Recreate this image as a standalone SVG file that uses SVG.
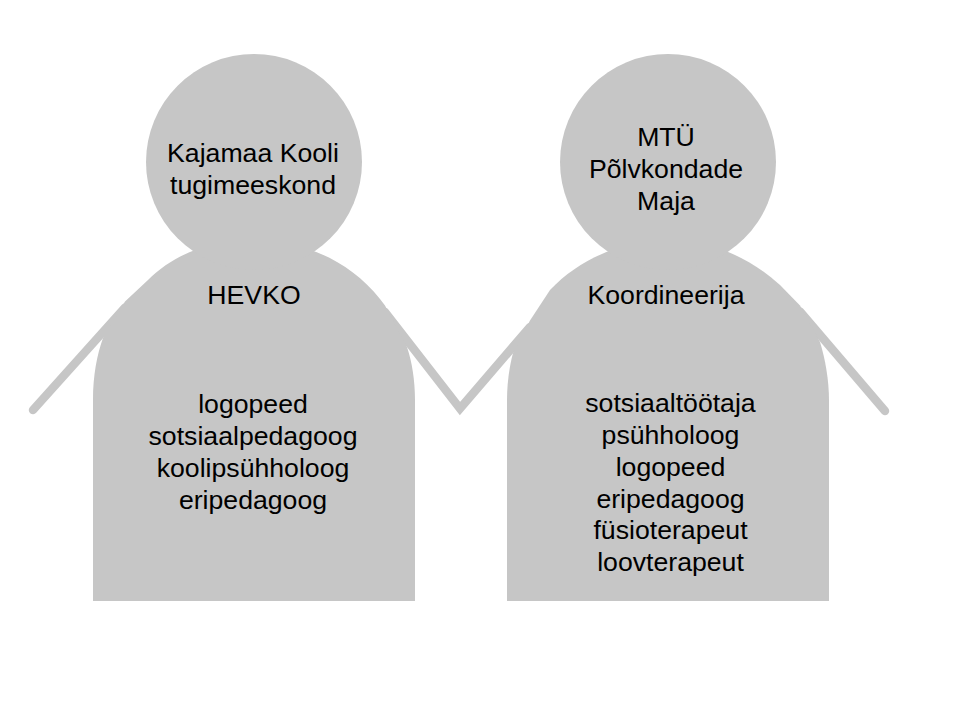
<svg xmlns="http://www.w3.org/2000/svg" width="960" height="720" viewBox="0 0 960 720">
<style>
.s{fill:#c6c6c6}
.a{fill:none;stroke:#c6c6c6;stroke-width:8.500;stroke-linecap:round;stroke-linejoin:miter}
text{font-family:"Liberation Sans",Arial,sans-serif;font-size:26.67px;fill:#000;text-anchor:middle}
</style>
<rect width="960" height="720" fill="#fff"/>
<g id="connectors">
<path class="a" d="M33 410L125 307.500"/>
<path class="a" d="M385 312L460 408.500L530 327"/>
<path class="a" d="M800 311.500L885 411"/>
</g>
<g id="person-left">
<path class="s" d="M93 601V400C93 375 97 355 103 338L125 301.500L148 280C175 253 212 240 254 240C298 240 348 258 380 299L385 305.500L407 347C412 362 415 380 415 400V601Z"/>
<circle class="s" cx="254" cy="162" r="108"/>
<text x="253" y="162">Kajamaa Kooli</text>
<text x="253" y="194">tugimeeskond</text>
<text x="254" y="303.600">HEVKO</text>
<text x="253" y="412.600">logopeed</text>
<text x="253" y="444.600">sotsiaalpedagoog</text>
<text x="253" y="476.600">koolipsühholoog</text>
<text x="253" y="508.600">eripedagoog</text>
</g>
<g id="person-right">
<path class="s" d="M507 601V400C507 385 509 368 513 353L530 320.600L550 290C580 258 625 240 668 240C712 240 750 258 780 285L800 305.500L820 342C825 358 829 380 829 400V601Z"/>
<circle class="s" cx="668" cy="162" r="108"/>
<text x="666" y="146.300">MTÜ</text>
<text x="666" y="178">Põlvkondade</text>
<text x="666" y="210">Maja</text>
<text x="666" y="303.600">Koordineerija</text>
<text x="670.500" y="411.600">sotsiaaltöötaja</text>
<text x="670.500" y="443.600">psühholoog</text>
<text x="670.500" y="475.600">logopeed</text>
<text x="670.500" y="507.600">eripedagoog</text>
<text x="670.500" y="538.600">füsioterapeut</text>
<text x="670.500" y="570.600">loovterapeut</text>
</g>
</svg>
